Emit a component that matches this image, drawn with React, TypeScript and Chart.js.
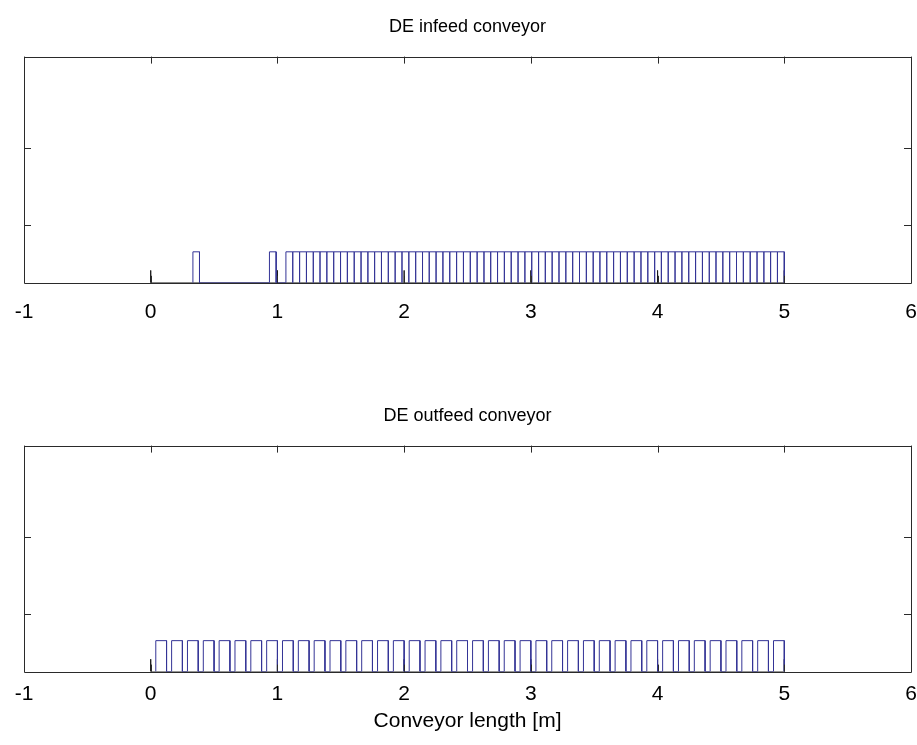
import React, { useEffect, useRef } from "react";
import { Chart, registerables } from "chart.js";

Chart.register(...registerables);

// ---- data ----
const X_TICKS = [-1, 0, 1, 2, 3, 4, 5, 6];
const Y_TICKS = [1.85, 4.35];
const Y_RANGE = [0, 7.3];
const PULSE_LEVEL = 1;
const MARKER_LEVEL = 0.4;

// integer-metre marker spikes (black)
const MARKER_X = [0, 1, 2, 3, 4, 5];

// DE infeed: two isolated pulses, then a contiguous train
const INFEED_START = [0.333, 0.937];
const INFEED_END = [0.385, 0.99];
const INFEED_TRAIN_EDGES = [
  1.067, 1.121, 1.175, 1.229, 1.283, 1.336, 1.39, 1.444, 1.498, 1.552,
  1.606, 1.66, 1.714, 1.767, 1.821, 1.875, 1.929, 1.983, 2.037, 2.091,
  2.145, 2.198, 2.252, 2.306, 2.36, 2.414, 2.468, 2.522, 2.576, 2.63,
  2.683, 2.737, 2.791, 2.845, 2.899, 2.953, 3.007, 3.061, 3.114, 3.168,
  3.222, 3.276, 3.33, 3.384, 3.438, 3.492, 3.545, 3.599, 3.653, 3.707,
  3.761, 3.815, 3.869, 3.923, 3.977, 4.03, 4.084, 4.138, 4.192, 4.246,
  4.3, 4.354, 4.408, 4.461, 4.515, 4.569, 4.623, 4.677, 4.731, 4.785,
  4.839, 4.892, 4.946, 5.0,
];

// DE outfeed: spaced pulses
const OUTFEED_START = [
  0.04, 0.165, 0.29, 0.415, 0.54, 0.665, 0.79, 0.915,
  1.04, 1.165, 1.29, 1.415, 1.54, 1.665, 1.79, 1.915,
  2.04, 2.165, 2.29, 2.415, 2.54, 2.665, 2.79, 2.915,
  3.04, 3.165, 3.29, 3.415, 3.54, 3.665, 3.79, 3.915,
  4.04, 4.165, 4.29, 4.415, 4.54, 4.665, 4.79, 4.915,
];
const OUTFEED_END = [
  0.125, 0.25, 0.375, 0.5, 0.625, 0.75, 0.875, 1.0,
  1.125, 1.25, 1.375, 1.5, 1.625, 1.75, 1.875, 2.0,
  2.125, 2.25, 2.375, 2.5, 2.625, 2.75, 2.875, 3.0,
  3.125, 3.25, 3.375, 3.5, 3.625, 3.75, 3.875, 4.0,
  4.125, 4.25, 4.375, 4.5, 4.625, 4.75, 4.875, 5.0,
];

const FONT = "'Liberation Sans', Arial, sans-serif";
const LINE_COLOR = "rgb(52,52,150)";

function pulsePoints(starts: number[], ends: number[]) {
  const pts: { x: number; y: number }[] = [];
  starts.forEach((s, i) => {
    pts.push({ x: s, y: 0 }, { x: s, y: PULSE_LEVEL }, { x: ends[i], y: PULSE_LEVEL }, { x: ends[i], y: 0 });
  });
  return pts;
}

function markerPoints(xs: number[]) {
  const pts: { x: number; y: number }[] = [];
  xs.forEach((x) => {
    pts.push({ x, y: 0 }, { x, y: MARKER_LEVEL }, { x, y: 0 });
  });
  return pts;
}

const boxPlugin = {
  id: "matlabBox",
  afterDraw(chart: any) {
    const { ctx, chartArea } = chart;
    const xs = chart.scales.x;
    const ys = chart.scales.y;
    const tl = 7;
    ctx.save();
    ctx.strokeStyle = "#2a2a2a";
    ctx.lineWidth = 1;
    ctx.beginPath();
    ctx.rect(Math.round(chartArea.left) + 0.5, Math.round(chartArea.top) + 0.5,
      Math.round(chartArea.right - chartArea.left), Math.round(chartArea.bottom - chartArea.top));
    X_TICKS.forEach((v) => {
      const px = Math.round(xs.getPixelForValue(v)) + 0.5;
      ctx.moveTo(px, chartArea.bottom);
      ctx.lineTo(px, chartArea.bottom - tl);
      ctx.moveTo(px, chartArea.top);
      ctx.lineTo(px, chartArea.top + tl);
    });
    Y_TICKS.forEach((v) => {
      const py = Math.round(ys.getPixelForValue(v)) + 0.5;
      ctx.moveTo(chartArea.left, py);
      ctx.lineTo(chartArea.left + tl, py);
      ctx.moveTo(chartArea.right, py);
      ctx.lineTo(chartArea.right - tl, py);
    });
    ctx.stroke();
    ctx.restore();
  },
};

type PlotProps = {
  top: number;
  height: number;
  title: string;
  titlePad: { top: number; bottom: number };
  starts: number[];
  ends: number[];
  tickPad: number;
  padBottom: number;
  xTitle?: string;
};

function Plot(p: PlotProps) {
  const ref = useRef<HTMLCanvasElement>(null);
  useEffect(() => {
    if (!ref.current) return;
    const chart = new Chart(ref.current, {
      type: "scatter",
      data: {
        datasets: [
          {
            data: pulsePoints(p.starts, p.ends),
            showLine: true,
            borderColor: LINE_COLOR,
            borderWidth: 1,
            pointRadius: 0,
            tension: 0,
          },
          {
            data: markerPoints(MARKER_X),
            showLine: true,
            borderColor: "#1a1a1a",
            borderWidth: 1,
            pointRadius: 0,
            tension: 0,
          },
        ],
      },
      options: {
        animation: false,
        responsive: false,
        devicePixelRatio: 1,
        layout: { padding: { left: 24, right: 6, top: 0, bottom: p.padBottom } },
        plugins: {
          legend: { display: false },
          tooltip: { enabled: false },
          title: {
            display: true,
            text: p.title,
            color: "#000",
            font: { family: FONT, size: 18, weight: "normal" },
            padding: p.titlePad,
          },
        },
        scales: {
          x: {
            type: "linear",
            min: X_TICKS[0],
            max: X_TICKS[X_TICKS.length - 1],
            grid: { display: false, drawTicks: false },
            border: { display: false },
            afterFit: (scale: any) => {
              scale.paddingLeft = 0;
              scale.paddingRight = 0;
            },
            ticks: {
              stepSize: 1,
              color: "#000",
              padding: p.tickPad,
              font: { family: FONT, size: 21 },
            },
            title: p.xTitle
              ? {
                  display: true,
                  text: p.xTitle,
                  color: "#000",
                  font: { family: FONT, size: 21 },
                  padding: { top: -8, bottom: 0 },
                }
              : { display: false },
          },
          y: {
            type: "linear",
            display: false,
            min: Y_RANGE[0],
            max: Y_RANGE[1],
          },
        },
      },
      plugins: [boxPlugin],
    });
    return () => chart.destroy();
  }, []);
  return (
    <canvas
      ref={ref}
      width={917}
      height={p.height}
      style={{ position: "absolute", left: 0, top: p.top, width: 917, height: p.height, display: "block" }}
    />
  );
}

export default function App() {
  const inStarts = [...INFEED_START, ...INFEED_TRAIN_EDGES.slice(0, -1)];
  const inEnds = [...INFEED_END, ...INFEED_TRAIN_EDGES.slice(1)];
  return (
    <div style={{ position: "absolute", left: 0, top: 0, width: 917, height: 745, background: "#fff", overflow: "hidden" }}>
      <Plot
        top={0}
        height={345}
        title="DE infeed conveyor"
        titlePad={{ top: 16, bottom: 19 }}
        starts={inStarts}
        ends={inEnds}
        tickPad={17}
        padBottom={3}
      />
      <Plot
        top={370}
        height={375}
        title="DE outfeed conveyor"
        titlePad={{ top: 35, bottom: 19 }}
        starts={OUTFEED_START}
        ends={OUTFEED_END}
        tickPad={10}
        padBottom={11}
        xTitle="Conveyor length [m]"
      />
    </div>
  );
}
